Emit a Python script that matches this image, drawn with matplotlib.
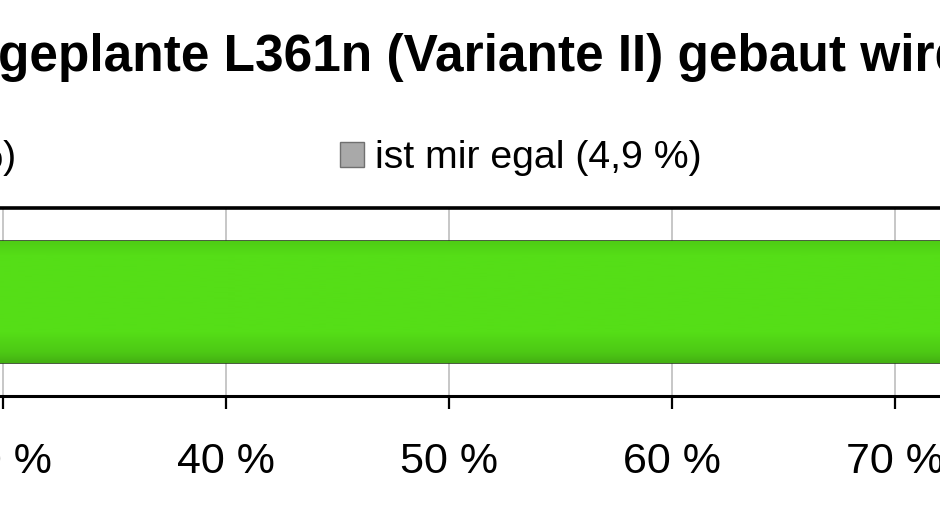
import numpy as np
import matplotlib
matplotlib.use('Agg')
import matplotlib.pyplot as plt
from matplotlib.colors import to_rgb

plt.rcParams['font.family'] = ['Liberation Sans', 'DejaVu Sans']

# Daten (nur ein Ausschnitt des Diagramms ist sichtbar)
categories = ['ja', 'nein', 'ist mir egal']
values = [80.2, 14.9, 4.9]
value_labels = ['80,2 %', '14,9 %', '4,9 %']
bar_colors = ['#55de17', '#e0261c', '#a9a9a9']
tick_values = [30, 40, 50, 60, 70]
tick_labels = ['30 %', '40 %', '50 %', '60 %', '70 %']
title = 'geplante L361n (Variante II) gebaut wird?'

fig = plt.figure(figsize=(9.4, 5.28), dpi=100)
ax = fig.add_axes([0, 0.25, 1, 0.356])

left = 0
bars = []
for cat, val, lab, col in zip(categories, values, value_labels, bar_colors):
    b = ax.barh(0, val, left=left, height=0.65, color=col,
                edgecolor='#27401a', linewidth=1.2,
                label=f'{cat} ({lab})', zorder=2)
    bars.append(b)
    left += val

# leichter Verlauf im Balken (oben etwas dunkler, unten dunkler)
t = np.linspace(0, 1, 100)
shade = np.interp(t, [0, 0.12, 0.75, 0.92, 1], [0.92, 1.0, 1.0, 0.9, 0.8])
for b, col in zip(bars, bar_colors):
    p = b.patches[0]
    rgb = np.array(to_rgb(col))
    img = (shade[:, None, None] * rgb[None, None, :]).clip(0, 1)
    x0, y0 = p.get_x(), p.get_y()
    im = ax.imshow(img, extent=(x0, x0 + p.get_width(), y0, y0 + p.get_height()),
                   origin='upper', aspect='auto', zorder=2.5)
    im.set_clip_path(p)

ax.set_xlim(29.865, 72.02)
ax.set_ylim(-0.5, 0.5)
ax.set_yticks([])
ax.set_xticks(tick_values)
ax.set_xticklabels(tick_labels)
ax.tick_params(axis='x', direction='out', length=9, width=1.6,
               labelsize=31, pad=24, color='black')
ax.grid(axis='x', color='#bdbdbd', linewidth=1.2)
ax.set_axisbelow(True)

for s in ['left', 'right']:
    ax.spines[s].set_visible(False)
ax.spines['top'].set_linewidth(2.6)
ax.spines['bottom'].set_linewidth(2.2)

fig.text(-0.002, 457 / 528, title, fontsize=37, fontweight='bold',
         va='baseline', ha='left')

leg = ax.legend(loc='center right', bbox_to_anchor=(702 / 940, 370 / 528),
                bbox_transform=fig.transFigure, ncol=3, frameon=False,
                fontsize=28.3, handlelength=0.61, handleheight=0.61,
                handletextpad=0.3, columnspacing=8.22, borderpad=0,
                borderaxespad=0)
for h in leg.legend_handles:
    h.set_edgecolor('#707070')
    h.set_linewidth(1.0)

fig.savefig('out.png', dpi=100)
